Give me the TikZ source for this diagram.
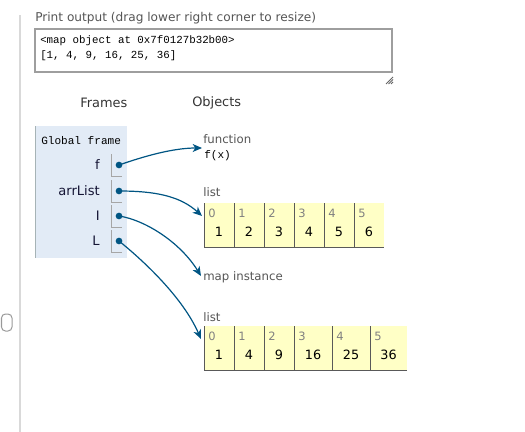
\documentclass[tikz,border=0pt]{standalone}
\usepackage{fontspec}
\setmainfont{DejaVu Sans}
\setmonofont{Liberation Mono}
\usetikzlibrary{arrows.meta}
\definecolor{arrowc}{HTML}{005583}
\definecolor{framefill}{HTML}{E2EBF6}
\definecolor{frameedge}{HTML}{A6B3B6}
\definecolor{listfill}{HTML}{FFFFC6}
\definecolor{labelc}{HTML}{555555}
\definecolor{namec}{HTML}{151535}
\begin{document}
\begin{tikzpicture}[x=0.75pt,y=-0.75pt,
  lbl/.style={anchor=west,inner sep=0pt,text=labelc,font=\fontsize{8.8pt}{10pt}\selectfont},
  hdr/.style={anchor=west,inner sep=0pt,text=black!80,font=\fontsize{9.7pt}{11pt}\selectfont},
  mono/.style={anchor=west,inner sep=0pt,text=black,font=\ttfamily\fontsize{8.1pt}{10pt}\selectfont},
  varname/.style={anchor=east,inner sep=0pt,text=namec,font=\fontsize{9.8pt}{11pt}\selectfont},
  dot/.style={circle,fill=arrowc,inner sep=0pt,minimum size=5pt},
  bracket/.style={draw=black!35,line width=0.75pt},
  idx/.style={anchor=west,inner sep=0pt,text=black!50,font=\fontsize{8.6pt}{10pt}\selectfont},
  val/.style={inner sep=0pt,text=black,font=\fontsize{9.6pt}{11pt}\selectfont},
  ptr/.style={draw=arrowc,line width=0.9pt,-{Stealth[length=7pt,width=6pt,inset=2pt]}},
  cellline/.style={draw=black!65,line width=0.75pt}
]
\useasboundingbox (0,0) rectangle (525,432);
% left gutter line and thumb
\draw[black!15,line width=1.2pt] (20,15) -- (20,432);
\draw[black!40,line width=0.75pt,rounded corners=3pt] (1.5,314) rectangle (12,331);
% print output
\node[lbl,font=\fontsize{9.1pt}{11pt}\selectfont] (plabel) at (35,18) {Print output (drag lower right corner to resize)};
\draw[black!38,line width=0.8pt] (35,29) rectangle (392,72);
\node[mono] (out1) at (40,41) {<map object at 0x7f0127b32b00>};
\node[mono] (out2) at (40,56) {[1, 4, 9, 16, 25, 36]};
\draw[black!60,line width=0.6pt] (386,84) -- (393,77) (388.5,84) -- (393,79.5) (391,84) -- (393,82);
% headers
\node[hdr] (frames) at (80,103) {Frames};
\node[hdr] (objects) at (192,103) {Objects};
% global frame
\fill[framefill] (35,126) rectangle (127,258);
\draw[frameedge,line width=0.75pt] (35,126) -- (35,258);
\node[mono,font=\ttfamily\fontsize{8.3pt}{10pt}\selectfont] (gf) at (41,141) {Global frame};
\foreach \nm/\yy in {f/165,arrList/191,I/216,L/241}{
  \node[varname] (n\nm) at (100,\yy) {\nm};
  \draw[bracket] (111,\yy-11) -- (111,\yy+11) -- (122,\yy+11);
}
\node[dot] (df) at (119,165) {};
\node[dot] (da) at (119,191) {};
\node[dot] (di) at (119,216) {};
\node[dot] (dl) at (119,241) {};
% function object
\node[lbl] (funlbl) at (203,139) {function};
\node[mono,font=\ttfamily\fontsize{8.3pt}{10pt}\selectfont] (fx) at (204,156) {f(x)};
% list 1
\node[lbl] (list1lbl) at (203,192) {list};
\fill[listfill] (204,203) rectangle (384,247);
\foreach \i/\v in {0/1,1/2,2/3,3/4,4/5,5/6}{
  \draw[cellline] (204+30*\i,203) -- (204+30*\i,247);
  \node[idx] (a\i) at (208+30*\i,213) {\i};
  \node[val] (av\i) at (219+30*\i,232) {\v};
}
\draw[cellline] (204,247) -- (384,247);
% map instance
\node[lbl] (maplbl) at (203,277) {map instance};
% list 2
\node[lbl] (list2lbl) at (203,317) {list};
\fill[listfill] (204,326) rectangle (407,370);
\foreach \i/\l/\r/\v in {0/204/234/1,1/234/264/4,2/264/294/9,3/294/332/16,4/332/370/25,5/370/407/36}{
  \draw[cellline] (\l,326) -- (\l,370);
  \node[idx] (b\i) at (\l+4,336) {\i};
  \node[val] (bv\i) at ({(\l+\r)/2},355) {\v};
}
\draw[cellline] (204,370) -- (407,370);
% targets
\coordinate (tf) at (202,148);
\coordinate (ta) at (202,216);
\coordinate (ti) at (201,276);
\coordinate (tl) at (201,339);
% pointers
\draw[ptr] (df.center) .. controls (142,157) and (172,148) .. (tf);
\draw[ptr] (da.center) .. controls (155,191) and (180,196) .. (ta);
\draw[ptr] (di.center) .. controls (145,220) and (180,242) .. (ti);
\draw[ptr] (dl.center) .. controls (145,262) and (183,298) .. (tl);
\end{tikzpicture}
\end{document}
